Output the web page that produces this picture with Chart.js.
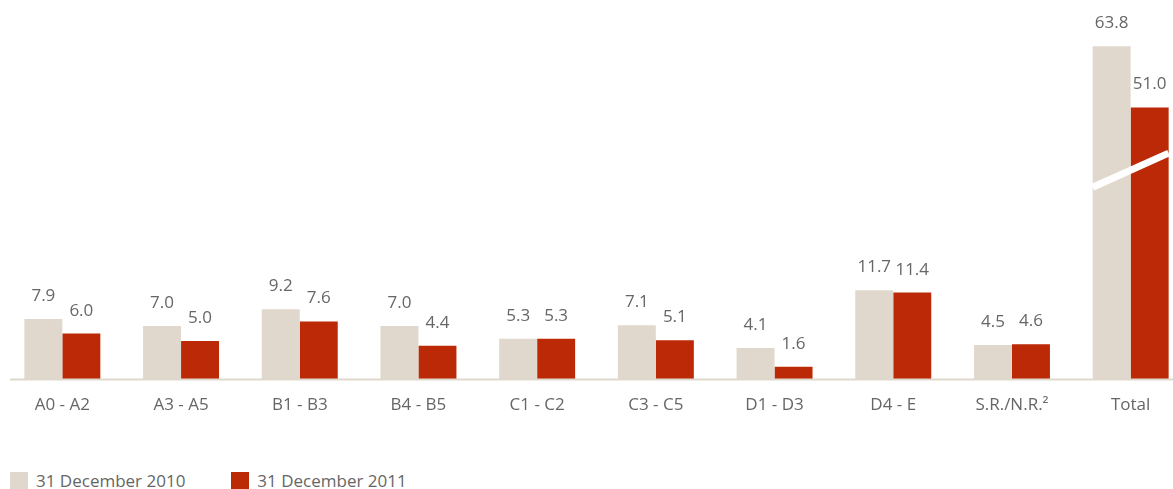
<!DOCTYPE html>
<html>
<head>
<meta charset="utf-8">
<script src="https://cdn.jsdelivr.net/npm/chart.js@4.4.1/dist/chart.umd.min.js"></script>
<style>
  html, body { margin: 0; padding: 0; background: #fff; overflow: hidden; }
  body { width: 1173px; height: 489px; position: relative; font-family: 'Open Sans', sans-serif; }
  #wrap { position: absolute; left: 0; top: 0; width: 1192px; height: 440px; }
  .legend { position: absolute; top: 469px; left: 10px; display: flex; align-items: center; color: #666; font-size: 17px; }
  .legend .item { display: flex; align-items: center; margin-right: 46px; }
  .legend .sw { width: 18px; height: 18px; margin-right: 8px; }
</style>
</head>
<body>
<div id="wrap"><canvas id="chart"></canvas></div>
<div class="legend" id="legend"></div>
<script>
// 数据
const categories = ['A0 - A2','A3 - A5','B1 - B3','B4 - B5','C1 - C2','C3 - C5','D1 - D3','D4 - E','S.R./N.R.²','Total'];
const values2010 = [7.9, 7.0, 9.2, 7.0, 5.3, 7.1, 4.1, 11.7, 4.5, 63.8];
const values2011 = [6.0, 5.0, 7.6, 4.4, 5.3, 5.1, 1.6, 11.4, 4.6, 51.0];
const seriesLabels = ['31 December 2010', '31 December 2011'];
const colors = ['#e0d8cc', '#bb2907'];

// Total 柱子使用断轴
const breakIndex = 9;
const breakAt = 10;
const breakFactor = 0.63;
const breakLine = [25.3, 29.8];

const plotted = arr => arr.map((v, i) => i === breakIndex ? breakAt + (v - breakAt) * breakFactor : v);

const textColor = '#666';
const fontFamily = "'Open Sans', sans-serif";

const valueLabels = {
  id: 'valueLabels',
  afterDatasetsDraw(chart) {
    const ctx = chart.ctx;
    const raw = [values2010, values2011];
    ctx.save();
    ctx.fillStyle = textColor;
    ctx.font = '17px ' + fontFamily;
    ctx.textAlign = 'center';
    ctx.textBaseline = 'alphabetic';
    chart.data.datasets.forEach((ds, di) => {
      chart.getDatasetMeta(di).data.forEach((bar, i) => {
        ctx.fillText(raw[di][i].toFixed(1), bar.x, bar.y - 18);
      });
    });

    // 断轴白线
    const y = chart.scales.y;
    const b0 = chart.getDatasetMeta(0).data[breakIndex];
    const b1 = chart.getDatasetMeta(1).data[breakIndex];
    const x0 = b0.x - b0.width / 2;
    const x1 = b1.x + b1.width / 2;
    ctx.strokeStyle = '#fff';
    ctx.lineWidth = 7;
    ctx.beginPath();
    ctx.moveTo(x0, y.getPixelForValue(breakLine[0]));
    ctx.lineTo(x1, y.getPixelForValue(breakLine[1]));
    ctx.stroke();

    // x 轴线
    const bottom = chart.chartArea.bottom;
    ctx.strokeStyle = colors[0];
    ctx.lineWidth = 2;
    ctx.beginPath();
    ctx.moveTo(10, bottom + 0.5);
    ctx.lineTo(1173, bottom + 0.5);
    ctx.stroke();
    ctx.restore();
  }
};

new Chart(document.getElementById('chart'), {
  type: 'bar',
  data: {
    labels: categories,
    datasets: [
      { label: seriesLabels[0], data: plotted(values2010), backgroundColor: colors[0] },
      { label: seriesLabels[1], data: plotted(values2011), backgroundColor: colors[1] }
    ]
  },
  options: {
    responsive: true,
    maintainAspectRatio: false,
    animation: false,
    layout: { padding: { left: 3, right: 2, top: 0, bottom: 0 } },
    datasets: { bar: { categoryPercentage: 0.64, barPercentage: 1, borderWidth: 0 } },
    scales: {
      x: {
        grid: { display: false, drawTicks: false },
        border: { display: false },
        ticks: { color: textColor, font: { family: fontFamily, size: 17 }, padding: 16, maxRotation: 0, autoSkip: false },
        afterFit: s => { s.height = 61; }
      },
      y: { display: false, min: 0, max: 50 }
    },
    plugins: {
      legend: { display: false },
      tooltip: { enabled: false }
    }
  },
  plugins: [valueLabels]
});

// 图例
const legendEl = document.getElementById('legend');
seriesLabels.forEach((l, i) => {
  const item = document.createElement('div');
  item.className = 'item';
  item.innerHTML = `<span class="sw" style="background:${colors[i]}"></span><span>${l}</span>`;
  legendEl.appendChild(item);
});
</script>
</body>
</html>
